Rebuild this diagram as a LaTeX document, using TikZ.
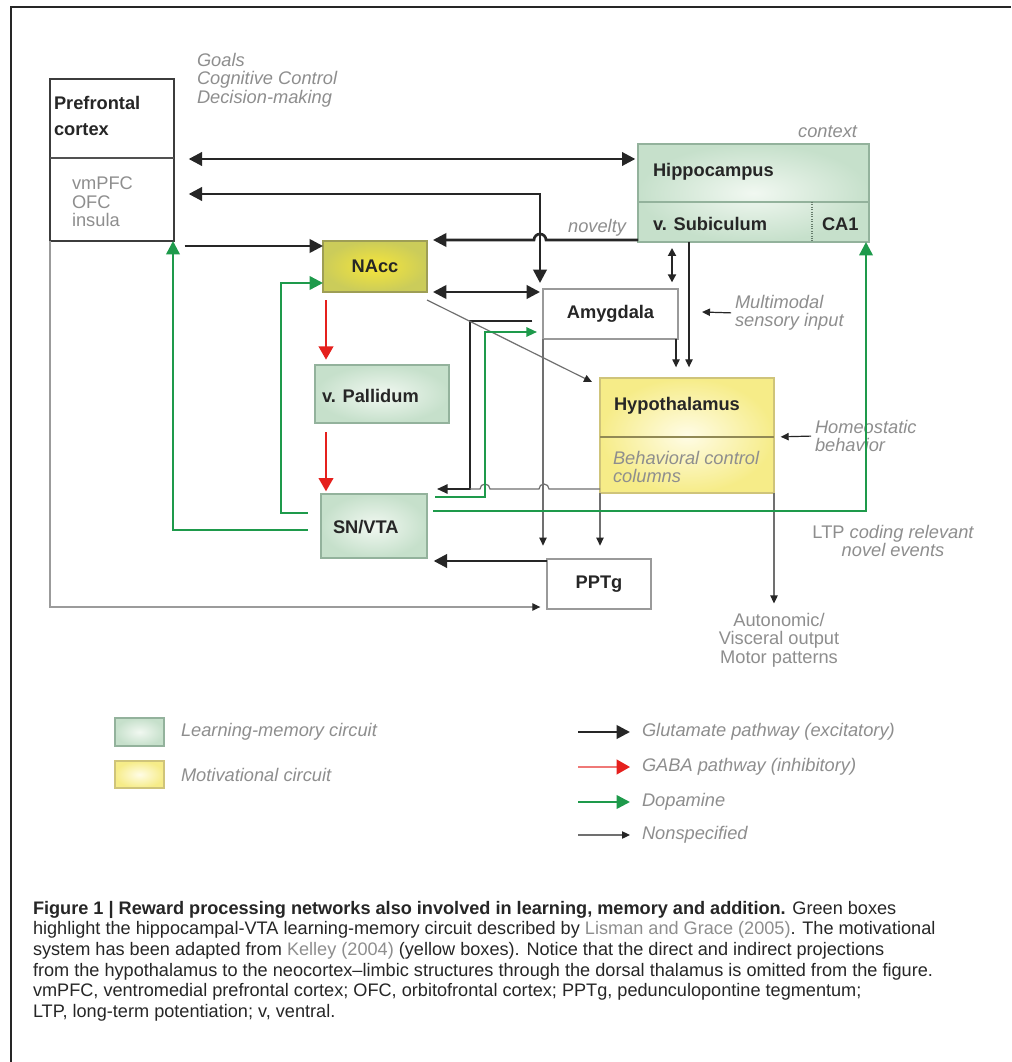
\documentclass[tikz,border=0pt]{standalone}
\usepackage{fontspec}
\setmainfont{Liberation Sans}
\usetikzlibrary{arrows.meta,fit}
\definecolor{ink}{HTML}{262626}
\definecolor{annot}{HTML}{8E8E8E}
\definecolor{gfill}{HTML}{C6E0CB}
\definecolor{gfillc}{HTML}{F1F8F1}
\definecolor{gline}{HTML}{93B29C}
\definecolor{yfill}{HTML}{F6EC88}
\definecolor{yfillc}{HTML}{FFFCE6}
\definecolor{yline}{HTML}{CFC47A}
\definecolor{nfill}{HTML}{CBCC5A}
\definecolor{nfillc}{HTML}{F6E63A}
\definecolor{nline}{HTML}{9E9E55}
\definecolor{dopa}{HTML}{1E9A4B}
\definecolor{gaba}{HTML}{E5201D}
\definecolor{nons}{HTML}{707070}
\definecolor{wline}{HTML}{9A9A9A}
\tikzset{
 gbox/.style={draw=gline, line width=0.9pt, inner color=gfillc, outer color=gfill},
 ybox/.style={draw=yline, line width=0.9pt, inner color=yfillc, outer color=yfill},
 nbox/.style={draw=nline, line width=0.9pt, inner color=nfillc, outer color=nfill},
 wbox/.style={draw=wline, line width=0.9pt, fill=white},
 pbox/.style={draw=ink!90, line width=1.4pt, fill=white},
 lbl/.style={font=\bfseries\fontsize{13.7}{15}\selectfont, text=ink},
 ann/.style={font=\itshape\fontsize{13.7}{13.8}\selectfont, text=annot, align=left},
 plain/.style={font=\fontsize{13.7}{14}\selectfont, text=annot},
 glu/.style={draw=ink, line width=2pt, -{Triangle[length=10pt,width=10pt]}},
 glub/.style={draw=ink, line width=2pt, {Triangle[length=10pt,width=10pt]}-{Triangle[length=10pt,width=10pt]}},
 glum/.style={draw=ink, line width=1.4pt, -{Triangle[length=8pt,width=7pt]}},
 glus/.style={draw=ink, line width=1.4pt, {Triangle[length=6pt,width=6pt]}-{Triangle[length=6pt,width=6pt]}},
 thinar/.style={draw=ink, line width=0.9pt, -{Triangle[length=6pt,width=5.5pt]}},
 gab/.style={draw=gaba, line width=1.5pt, -{Triangle[length=10pt,width=11pt]}},
 dop/.style={draw=dopa, line width=1.8pt, -{Triangle[length=10pt,width=10pt]}},
 dopm/.style={draw=dopa, line width=1.5pt, -{Triangle[length=8pt,width=7pt]}},
 nsp/.style={draw=nons, line width=0.9pt, -{Triangle[length=6pt,width=5.5pt,color=ink]}},
 nspl/.style={draw=nons, line width=0.9pt},
}
\begin{document}
\begin{tikzpicture}[x=0.75pt,y=-0.75pt, every node/.style={inner sep=0pt, outer sep=0pt}]
\useasboundingbox (0,0) rectangle (1011,1062);
\fill[white] (0,0) rectangle (1011,1062);
% frame
\draw[ink, line width=1.2pt] (11,1062) -- (11,7) -- (1011,7);

% boxes
\node[pbox, fit={(50,79) (174,241)}] (pfc) {};
\draw[ink!80, line width=1pt] (pfc.west |- 0,158) -- (pfc.east |- 0,158);
\node[lbl, anchor=west, align=left, font=\bfseries\fontsize{13.7}{20}\selectfont] (pfct) at (54,116) {Prefrontal\\cortex};
\node[plain, anchor=west, align=left] (pfcs) at (72,202) {vmPFC\\OFC\\insula};

\node[gbox, fit={(638,144) (869,242)}] (hip) {};
\draw[gline, line width=0.9pt] (hip.west |- 0,202) -- (hip.east |- 0,202);
\draw[gline!70!black, line width=0.8pt, densely dotted] (812,202) -- (812,242);
\node[lbl, anchor=west] (hipt) at (653,172) {Hippocampus};
\node[lbl, anchor=west] (sub) at (653,224) {v. Subiculum};
\node[lbl, anchor=west] (ca1) at (822,224) {CA1};

\node[nbox, fit={(323,241) (427,292)}] (nacc) {};
\node[lbl] (nacct) at (nacc.center) {NAcc};
\node[wbox, fit={(543,289) (678,339)}] (amy) {};
\node[lbl] (amyt) at (amy.center) {Amygdala};
\node[gbox, fit={(315,365) (449,423)}] (pall) {};
\node[lbl, anchor=west] (pallt) at (322,396) {v. Pallidum};
\node[ybox, fit={(600,378) (774,493)}] (hyp) {};
\draw[yline!70!black, line width=0.9pt] (hyp.west |- 0,437) -- (hyp.east |- 0,437);
\node[lbl, anchor=west] (hypt) at (614,406) {Hypothalamus};
\node[ann, anchor=west] (bcc) at (613,467) {Behavioral control\\columns};
\node[gbox, fit={(321,494) (427,558)}] (snvta) {};
\node[lbl, anchor=west] (snt) at (333,527) {SN/VTA};
\node[wbox, fit={(547,559) (651,609)}] (pptg) {};
\node[lbl] (ppt) at (pptg.center) {PPTg};

% annotations
\node[ann, anchor=west] (goals) at (197,80) {Goals\\Cognitive Control\\Decision-making};
\node[ann, anchor=east] (ctx) at (857,132) {context};
\node[ann, anchor=east] (nov) at (626,228) {novelty};
\node[ann, anchor=west] (mm) at (735,313) {Multimodal\\sensory input};
\node[ann, anchor=west] (hb) at (815,436) {Homeostatic\\behavior};
\node[ann, align=center] (ltp) at (893,541) {\upshape LTP \itshape coding relevant\\novel events};
\node[plain, align=center] (auto) at (779,640) {Autonomic/\\Visceral output\\Motor patterns};
\coordinate (mmtip) at (702,312);

% glutamate
\draw[glub, shorten <=11pt, shorten >=2pt] (pfc.east |- 0,159) -- (hip.west |- 0,159);
\draw[glub, shorten <=11pt] (pfc.east |- 0,194) -- (540,194) -- ([xshift=-2.25pt,yshift=4.5pt]amy.north west);
\draw[glu, shorten <=8pt] (pfc.east |- 0,246) -- (nacc.west |- 0,246);
\draw[glu, shorten >=4.5pt] (hip.west |- 0,240) -- (546,240) arc[start angle=0,end angle=-180,radius=6] -- (nacc.east |- 0,240);
\draw[glub, shorten <=4.5pt, shorten >=2.25pt] (nacc.east |- 0,292) -- (amy.west |- 0,292);
\draw[glus, shorten <=4.5pt, shorten >=5pt] (hip.south -| 672,0) -- (amy.north -| 672,0);
\draw[thinar, shorten >=8pt] (hip.south -| 689,0) -- (hyp.north -| 689,0);
\draw[thinar, shorten >=8pt] (amy.south -| 676,0) -- (hyp.north -| 676,0);
\draw[thinar, shorten <=3pt] (mm.west) -- (mmtip);
\draw[thinar, shorten <=3pt, shorten >=5pt] (hb.west) -- (hyp.east |- 0,437);
\draw[glum, shorten <=8pt, shorten >=7.5pt] (amy.west |- 0,321) -- (470,321) -- (470,489) -- (snvta.east |- 0,489);
\draw[glu, shorten >=5pt] (pptg.west |- 0,561) -- (snvta.east |- 0,561);

% nonspecified
\draw[nspl] (hyp.west |- 0,489) -- (549,489) arc[start angle=0,end angle=-180,radius=5] -- (490,489) arc[start angle=0,end angle=-180,radius=5] -- (470,489);
\draw[nsp] ([yshift=-6pt]nacc.south east) -- ([xshift=-6pt,yshift=-3pt]hyp.north west);
\draw[nsp, shorten >=10pt] (amy.south west) -- (amy.south west |- pptg.north);
\draw[nsp, shorten >=10pt] (hyp.south west) -- (hyp.south west |- pptg.north);
\draw[nsp, shorten >=7pt] (hyp.south east) -- (hyp.south east |- auto.north);
\draw[nsp, draw=nons!70, shorten >=5pt] (pfc.south west) -- (pfc.south west |- 0,607) -- (pptg.west |- 0,607);

% GABA
\draw[gab, shorten <=6pt, shorten >=4pt] (nacc.south -| 326,0) -- (pall.north -| 326,0);
\draw[gab, shorten <=7pt, shorten >=2pt] (pall.south -| 326,0) -- (snvta.north -| 326,0);

% dopamine
\draw[dop, shorten <=10pt] (snvta.west |- 0,530) -- (173,530) -- (pfc.south -| 173,0);
\draw[dop, shorten <=10pt] (snvta.west |- 0,513) -- (281,513) -- (281,283) -- (nacc.west |- 0,283);
\draw[dop, shorten <=4.5pt] (snvta.east |- 0,511) -- (866,511) -- (hip.south -| 866,0);
\draw[dopm, shorten <=6pt, shorten >=4.5pt] (snvta.east |- 0,497) -- (485,497) -- (485,332) -- (amy.west |- 0,332);

% legend
\node[gbox, fit={(115,718) (164,746)}] (lgg) {};
\node[ybox, fit={(115,761) (164,788)}] (lgy) {};
\node[ann, anchor=west] (lggt) at (181,732) {Learning-memory circuit};
\node[ann, anchor=west] (lgyt) at (181,775) {Motivational circuit};
\node[ann, anchor=west] (l1) at (642,732) {Glutamate pathway (excitatory)};
\node[ann, anchor=west] (l2) at (642,767) {GABA pathway (inhibitory)};
\node[ann, anchor=west] (l3) at (642,802) {Dopamine};
\node[ann, anchor=west] (l4) at (642,835) {Nonspecified};
\coordinate (a1) at (578,732);
\coordinate (a2) at (578,767);
\coordinate (a3) at (578,802);
\coordinate (a4) at (578,835);
\draw[glu, shorten >=9pt] (a1) -- (l1.west);
\draw[gab, draw=gaba!60, -{Triangle[length=10pt,width=11pt,color=gaba]}, shorten >=9pt] (a2) -- (l2.west);
\draw[dop, shorten >=9pt] (a3) -- (l3.west);
\draw[nsp, shorten >=9pt] (a4) -- (l4.west);

% caption
\node[anchor=north west, align=left, font=\fontsize{13.6}{15.5}\selectfont, text=ink] (cap) at (33,901) {%
\textbf{Figure 1 | Reward processing networks also involved in learning, memory and addition.} Green boxes\\
highlight the hippocampal-VTA learning-memory circuit described by {\color{annot}Lisman and Grace (2005)}. The motivational\\
system has been adapted from {\color{annot}Kelley (2004)} (yellow boxes). Notice that the direct and indirect projections\\
from the hypothalamus to the neocortex–limbic structures through the dorsal thalamus is omitted from the figure.\\
vmPFC, ventromedial prefrontal cortex; OFC, orbitofrontal cortex; PPTg, pedunculopontine tegmentum;\\
LTP, long-term potentiation; v, ventral.};
\end{tikzpicture}
\end{document}
